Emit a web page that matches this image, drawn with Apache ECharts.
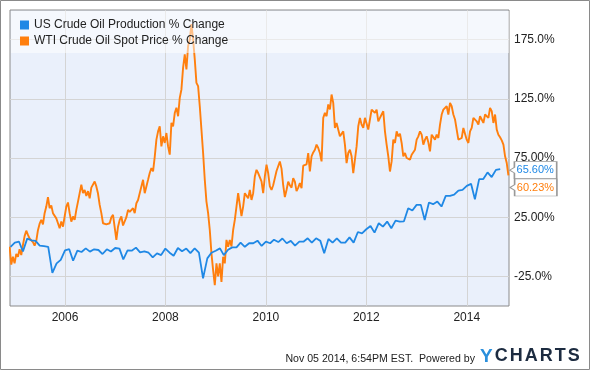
<!DOCTYPE html>
<html>
<head>
<meta charset="utf-8">
<script src="https://cdn.jsdelivr.net/npm/echarts@6/dist/echarts.min.js"></script>
<style>
html,body{margin:0;padding:0;background:#fff;}
#chart{width:590px;height:371px;}
</style>
</head>
<body>
<div id="chart"></div>
<script>
// ---- data ----
const seriesNames = ['US Crude Oil Production % Change', 'WTI Crude Oil Spot Price % Change'];
// monthly production % change, starting Dec 2004
const productionStart = [2004, 11]; // year, monthIndex
const productionValues = [
  0,
  3.5, 4.3, -4, 6.9, 5.5, 5, 1, 0.5, 0, -22, -14, -11,
  -3, -2, -11.8, -3.3, -4.4, -1.3, -4.1, -2.1, -2.7, -6.1, -2.1, -4,
  -1, -1.5, -10.6, -3, -3.3, -0.7, -4.7, -3.9, -5, -9, -5.6, -7,
  -1.5, -5, -7.6, -1, -3.8, -1.5, -5.3, -1.3, -5, -26.7, -9.8, -5,
  -3.3, -1.3, -7, -2.5, -0.5, -0.5, 3.5, 0, 3, 3, 5.2, 0.7,
  4.3, 3, 6, 4, 7, 3, 5, 1, 4.3, 4.3, 7.2, 3.5,
  7.2, 5, -5.5, 6.6, 3.5, 7.2, 3.5, 3.5, 8, 3.5, 12.5, 11.4,
  14.8, 17.6, 12, 19.9, 17, 21.3, 15.7, 22.1, 21.3, 21.5, 32.6, 30.6,
  35.4, 35.4, 22.7, 37.4, 36, 38.2, 34, 43, 43, 44, 47.5, 48,
  51.5, 53.2, 40.2, 57.2, 57.2, 62.8, 58.9, 65, 65.6
];
// WTI spot price % change, sampled every ~12.13 days from 2004-11-24
const priceStart = '2004-11-24';
const priceStepDays = 12.133;
const priceValues = [
  0, -15, -8.4, -14, -6, -8.4, -2, -7, 1.5, 9,
  13.6, 10, 7, 6, 4, 1, 5, 14, 19.5, 22.7,
  19, 28.4, 34, 42, 32.6, 35, 28.4, 27.5, 24, 19.9,
  15.7, 21.3, 17, 25.6, 34, 37.4, 28.4, 21.3, 25.6, 22.7,
  31.2, 38.2, 45.3, 52.4, 45.3, 48, 43, 47, 41, 50,
  51, 55.2, 51, 45, 35.4, 28.4, 19.9, 19.5, 19, 17.6,
  19.9, 25, 27, 27.4, 5.8, 17, 22.7, 25.6, 18, 19,
  25, 31.2, 29.5, 29, 32.6, 28.4, 36.8, 39.5, 41, 51,
  56.6, 45.3, 51, 56.6, 62.3, 66.5, 63.7, 76, 90.5, 97.5,
  101.8, 84.8, 93.3, 87.7, 96.1, 84.8, 77.8, 104.7, 101.8, 113,
  117.5, 110.3, 125.8, 132.9, 151.3, 162.6, 149.8, 169.6, 175, 188,
  175.3, 158.3, 138.5, 135.7, 118.7, 99, 79.2, 56.6, 38.2, 28.4,
  14.2, -5.5, -19.7, -32.4, -14, -25, -14, -29.6, -8.4, -14,
  5.8, 0, 5.8, 0.3, 14.2, 22.7, 34, 45.3, 44, 26,
  34, 45.3, 46.7, 41, 48.1, 39.6, 45.3, 59.4, 65, 62.3,
  63.7, 55.2, 45.3, 59.4, 69.3, 62.3, 51, 48, 52, 58,
  64, 68, 72, 66, 52, 42, 48, 55, 52, 50,
  58, 55, 47, 50, 53.8, 49.6, 68.5, 67.4, 69.6, 79.2,
  63.6, 76.4, 79.7, 82, 86.3, 83.5, 79.2, 72.1, 108.9, 113.1,
  110.3, 120.2, 116, 128.6, 121.6, 100.4, 104.6, 104.6, 93.3, 93.3,
  97.5, 86.3, 70.7, 79.2, 82, 76.4, 62.3, 73.6, 84.8, 101.8,
  108.9, 103.2, 100.4, 108.9, 107.5, 99, 107.5, 115.9, 117.3, 113.1,
  115.9, 106, 108.9, 111.7, 114.5, 97.5, 86.3, 76.4, 63.6, 72.1,
  90.5, 87.7, 97.5, 93.3, 95.5, 87.7, 76.4, 79.2, 75, 75,
  73.6, 77.8, 76.4, 82, 90.5, 93.3, 97.5, 94.7, 86.3, 90.5,
  93.3, 88.2, 80.6, 94.7, 96.1, 90.5, 94.7, 91.9, 103.2, 111.7,
  115.9, 114.5, 118.7, 111.7, 121.6, 118.7, 111.7, 107.5, 99, 90.5,
  90.5, 91.9, 100.4, 100.4, 90.5, 87.7, 97.5, 100.4, 108.9, 110.3,
  106, 103.2, 110.3, 107.5, 104.6, 111.7, 113.1, 108.9, 117.3, 114.5,
  104.6, 111.7, 99, 94.7, 92.5, 89.9, 86.3, 76.4, 70.7, 60.23
];
const xRange = ['2004-11-27', '2014-11-04'];
const xTickYears = [2006, 2008, 2010, 2012, 2014];
const yRange = [-50, 200];
const yTickValues = [-25, 25, 75, 125, 175];
const yTickLabels = ['-25.0%', '25.00%', '75.00%', '125.0%', '175.0%'];
const footerText = 'Nov 05 2014, 6:54PM EST.  Powered by';

// ---- build ----
const DAY = 86400000;
const productionData = productionValues.map((v, i) =>
  [Date.UTC(productionStart[0], productionStart[1] + i, 1), v]);
const p0 = Date.parse(priceStart + 'T00:00:00Z');
const priceData = priceValues.map((v, i) => [p0 + i * priceStepDays * DAY, v]);
const xTicks = xTickYears.map(y => Date.UTC(y, 0, 1));

const BLUE = '#1f88e5';
const ORANGE = '#ff7f0e';
const FONT = 'Liberation Sans, Arial, sans-serif';
const calloutPath = 'path://M5,0 L50,0 L50,18 L5,18 L5,12 L0,9 L5,6 Z';

function endMarker(data, color, offset) {
  const last = data[data.length - 1];
  return {
    silent: true,
    symbol: calloutPath,
    symbolSize: [47, 17],
    symbolKeepAspect: false,
    symbolOffset: offset,
    itemStyle: { color: '#fff', borderColor: '#999', borderWidth: 1 },
    label: {
      show: true, position: 'inside', offset: [2, 0],
      color: color, fontSize: 11, fontFamily: FONT,
      formatter: p => p.value.toFixed(2) + '%'
    },
    data: [{ coord: last, value: last[1] }]
  };
}

const logoLetter = { fill: '#1c2b40', fontSize: 18, fontWeight: 'bold', fontFamily: FONT, padding: [0, 1, 0, 1] };

const chart = echarts.init(document.getElementById('chart'), null, { renderer: 'canvas' });
chart.setOption({
  animation: false,
  backgroundColor: '#fff',
  textStyle: { fontFamily: FONT },
  grid: {
    left: 10, top: 10, right: 81, bottom: 65,
    show: true, backgroundColor: '#eaf0fb', borderColor: '#8a8a8a', borderWidth: 1
  },
  legend: {
    orient: 'vertical', left: 15, top: 14, itemGap: 4, z: 10,
    icon: 'rect', itemWidth: 9, itemHeight: 9,
    textStyle: { fontSize: 12, color: '#222', fontFamily: FONT },
    data: seriesNames
  },
  xAxis: {
    type: 'value',
    min: Date.parse(xRange[0] + 'T00:00:00Z'),
    max: Date.parse(xRange[1] + 'T00:00:00Z'),
    axisLine: { show: false },
    axisTick: { show: false, customValues: xTicks },
    axisLabel: {
      customValues: xTicks, margin: 6, color: '#222', fontSize: 12,
      formatter: v => String(new Date(v).getUTCFullYear())
    },
    splitLine: { show: true, lineStyle: { color: '#d4d4d4', width: 1 } }
  },
  yAxis: {
    type: 'value', position: 'right',
    min: yRange[0], max: yRange[1],
    axisLine: { show: false },
    axisTick: { show: false, customValues: yTickValues },
    axisLabel: {
      customValues: yTickValues, margin: 5, color: '#222', fontSize: 12,
      formatter: v => yTickLabels[yTickValues.indexOf(v)]
    },
    splitLine: { show: true, lineStyle: { color: '#d4d4d4', width: 1 } }
  },
  series: [
    {
      name: seriesNames[0], type: 'line', data: productionData,
      showSymbol: false, symbol: 'none', clip: false, z: 3,
      lineStyle: { color: BLUE, width: 1.8 }, itemStyle: { color: BLUE },
      markPoint: endMarker(productionData, BLUE, [33, 1])
    },
    {
      name: seriesNames[1], type: 'line', data: priceData,
      showSymbol: false, symbol: 'none', clip: false, z: 2,
      lineStyle: { color: ORANGE, width: 1.9 }, itemStyle: { color: ORANGE },
      markPoint: endMarker(priceData, ORANGE, [25, 12])
    }
  ],
  graphic: [
    { type: 'rect', z: 5, silent: true, shape: { x: 11, y: 11, width: 498, height: 42 },
      style: { fill: 'rgba(255,255,255,0.5)' } },
    { type: 'rect', z: 100, silent: true, shape: { x: 0.5, y: 0.5, width: 589, height: 369 },
      style: { fill: 'none', stroke: '#8a8a8a', lineWidth: 1 } },
    { type: 'text', z: 100, silent: true, right: 115, top: 354,
      style: { text: footerText, fill: '#222', fontSize: 10.6, fontFamily: FONT } },
    { type: 'text', z: 100, silent: true, left: 480, top: 347,
      style: {
        text: '{y|Y}{c|C}{c|H}{c|A}{c|R}{c|T}{c|S}',
        rich: {
          y: { fill: '#2a8fdc', fontSize: 19, fontWeight: 'bold', fontFamily: FONT, padding: [0, 1, 0, 0] },
          c: logoLetter
        }
      } }
  ]
});
</script>
</body>
</html>
